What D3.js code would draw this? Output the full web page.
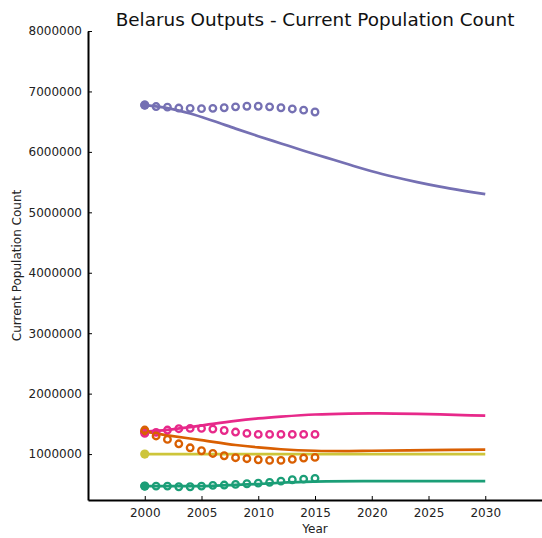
<!DOCTYPE html>
<html>
<head>
<meta charset="utf-8">
<script src="https://cdn.jsdelivr.net/npm/d3@7"></script>
<style>
  html, body { margin: 0; padding: 0; background: #fff; }
  svg { display: block; font-family: "DejaVu Sans", sans-serif; }
</style>
</head>
<body>
<svg id="chart" width="542" height="538"></svg>
<script>
// ---- data ----
const chartTitle = "Belarus Outputs - Current Population Count";
const xLabel = "Year";
const yLabel = "Current Population Count";
const xTicks = [2000, 2005, 2010, 2015, 2020, 2025, 2030];
const yTicks = [1000000, 2000000, 3000000, 4000000, 5000000, 6000000, 7000000, 8000000];

const obsYears = [2000, 2001, 2002, 2003, 2004, 2005, 2006, 2007, 2008, 2009, 2010, 2011, 2012, 2013, 2014, 2015];
const obsPurple = [6775000, 6750000, 6740000, 6725000, 6720000, 6715000, 6720000, 6730000, 6745000, 6755000, 6755000, 6745000, 6730000, 6710000, 6690000, 6660000];
const obsPink = [1342000, 1359000, 1397000, 1420000, 1425000, 1425000, 1414000, 1390000, 1364000, 1342000, 1325000, 1325000, 1325000, 1325000, 1325000, 1325000];
const obsOrange = [1397000, 1300000, 1243000, 1170000, 1104000, 1055000, 1010000, 972000, 940000, 923000, 906000, 895000, 895000, 912000, 934000, 945000];
const obsGreen = [470000, 470000, 470000, 459000, 459000, 470000, 482000, 487000, 498000, 509000, 520000, 532000, 553000, 575000, 586000, 598000];

const modelPurpleYears = [2000, 2002, 2004, 2006, 2008, 2010, 2012, 2014, 2016, 2018, 2020, 2022, 2024, 2026, 2028, 2030];
const modelPurple = [6775000, 6725000, 6635000, 6515000, 6385000, 6260000, 6140000, 6020000, 5905000, 5790000, 5680000, 5585000, 5500000, 5425000, 5360000, 5300000];
const modelPinkYears = [2000, 2002, 2004, 2006, 2008, 2010, 2012, 2015, 2018, 2020, 2022, 2025, 2028, 2030];
const modelPink = [1370000, 1400000, 1445000, 1500000, 1550000, 1590000, 1620000, 1655000, 1670000, 1672000, 1670000, 1660000, 1645000, 1635000];
const modelOrangeYears = [2000, 2002, 2005, 2008, 2010, 2012, 2015, 2018, 2020, 2025, 2030];
const modelOrange = [1370000, 1310000, 1230000, 1150000, 1110000, 1080000, 1055000, 1050000, 1055000, 1065000, 1075000];
const modelYellowYears = [2000, 2010, 2020, 2030];
const modelYellow = [1000000, 1000000, 1000000, 1000000];
const modelGreenYears = [2000, 2004, 2006, 2008, 2010, 2012, 2014, 2016, 2020, 2025, 2030];
const modelGreen = [470000, 470000, 475000, 490000, 505000, 525000, 540000, 547000, 552000, 553000, 553000];

const colors = { purple: "#7570b3", pink: "#e7298a", orange: "#d95f02", yellow: "#cdc53a", green: "#1b9e77" };

const series = [
  { key: "purple", years: modelPurpleYears, vals: modelPurple, obs: obsPurple },
  { key: "pink", years: modelPinkYears, vals: modelPink, obs: obsPink },
  { key: "orange", years: modelOrangeYears, vals: modelOrange, obs: obsOrange },
  { key: "yellow", years: modelYellowYears, vals: modelYellow, obs: null },
  { key: "green", years: modelGreenYears, vals: modelGreen, obs: obsGreen }
];

// ---- layout ----
const svg = d3.select("#chart");
const mLeft = 88, mRight = 542, mTop = 31, mBottom = 500;
const x = d3.scaleLinear().domain([1995, 2035]).range([mLeft, mRight]);
const y = d3.scaleLinear().domain([240000, 8000000]).range([mBottom, mTop]);

// title
svg.append("text").attr("x", 315).attr("y", 26).attr("text-anchor", "middle")
  .attr("font-size", 18.4).attr("fill", "#111").text(chartTitle);

// lines and points
const line = d3.line().x(d => x(d[0])).y(d => y(d[1])).curve(d3.curveCatmullRom.alpha(0.5));
const plot = svg.append("g");
series.forEach(s => {
  const pts = s.years.map((yr, i) => [yr, s.vals[i]]);
  plot.append("path").datum(pts).attr("d", line)
    .attr("fill", "none").attr("stroke", colors[s.key]).attr("stroke-width", 2.7)
    .attr("stroke-linejoin", "round");
  plot.append("circle").attr("cx", x(s.years[0])).attr("cy", y(s.vals[0]))
    .attr("r", 4.6).attr("fill", colors[s.key]);
});
series.forEach(s => {
  if (!s.obs) return;
  plot.selectAll(null).data(obsYears.map((yr, i) => [yr, s.obs[i]])).enter()
    .append("circle").attr("cx", d => x(d[0])).attr("cy", d => y(d[1]))
    .attr("r", 3.3).attr("fill", "none").attr("stroke", colors[s.key]).attr("stroke-width", 2.3);
});

// axes
const xAxis = d3.axisBottom(x).tickValues(xTicks).tickFormat(d3.format("d")).tickSizeInner(-4).tickSizeOuter(0).tickPadding(8);
const yAxis = d3.axisLeft(y).tickValues(yTicks).tickFormat(d3.format("d")).tickSizeInner(-4).tickSizeOuter(0).tickPadding(6);
const gx = svg.append("g").attr("transform", `translate(0,${mBottom})`).call(xAxis);
const gy = svg.append("g").attr("transform", `translate(${mLeft},0)`).call(yAxis);
[gx, gy].forEach(g => {
  g.select(".domain").attr("stroke", "#000").attr("stroke-width", 2);
  g.selectAll(".tick line").attr("stroke", "#000").attr("stroke-width", 1);
  g.selectAll(".tick text").attr("font-size", 12).attr("fill", "#222").attr("font-family", "DejaVu Sans, sans-serif");
});

// axis labels
svg.append("text").attr("x", 315).attr("y", 533).attr("text-anchor", "middle")
  .attr("font-size", 12).attr("fill", "#222").text(xLabel);
svg.append("text").attr("transform", `translate(21,${(mTop + mBottom) / 2}) rotate(-90)`)
  .attr("text-anchor", "middle").attr("font-size", 12).attr("fill", "#222").text(yLabel);
</script>
</body>
</html>
